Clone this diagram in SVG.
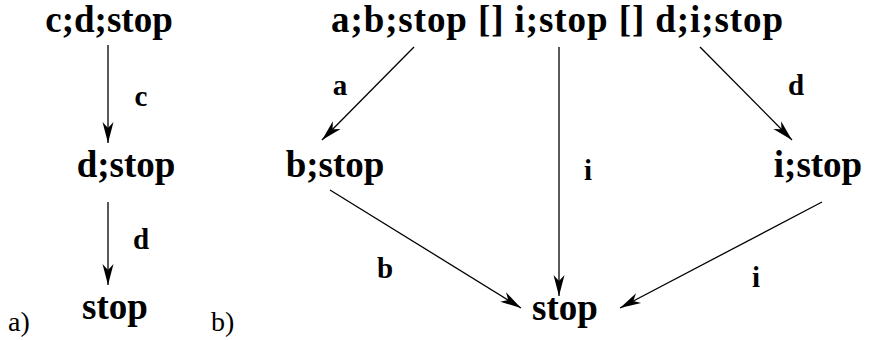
<svg xmlns="http://www.w3.org/2000/svg" width="869" height="340" viewBox="0 0 869 340">
<style>
.n{font-family:'Liberation Serif','Times New Roman',serif;font-weight:bold;font-size:37px;fill:#000;text-anchor:middle}
.l{font-family:'Liberation Serif','Times New Roman',serif;font-weight:bold;font-size:29px;fill:#000;text-anchor:middle}
.p{font-family:'Liberation Serif','Times New Roman',serif;font-size:28px;fill:#000}
.e{stroke:#000;stroke-width:1.3;fill:none;marker-end:url(#ah)}
</style>
<defs>
<marker id="ah" markerUnits="userSpaceOnUse" markerWidth="24" markerHeight="14" viewBox="-22 -7 24 14" refX="0" refY="0" orient="auto">
<path d="M0,0 L-21,-5.5 L-15,0 L-21,5.5 Z" fill="#000"/>
</marker>
</defs>
<g id="a-cdstop"><text class="n" x="109" y="32">c;d;stop</text></g>
<g id="a-dstop"><text class="n" x="126" y="177">d;stop</text></g>
<g id="a-stop"><text class="n" x="115" y="319">stop</text></g>
<g id="b-top"><text class="n" x="557" y="32" textLength="452" lengthAdjust="spacing">a;b;stop [] i;stop [] d;i;stop</text></g>
<g id="b-bstop"><text class="n" x="335" y="177">b;stop</text></g>
<g id="b-istop"><text class="n" x="818" y="177">i;stop</text></g>
<g id="b-stop"><text class="n" x="565" y="320">stop</text></g>
<g id="connectors">
<line class="e" x1="108" y1="45" x2="108" y2="143"/>
<line class="e" x1="108" y1="202" x2="108" y2="285"/>
<line class="e" x1="414" y1="47" x2="322" y2="140"/>
<line class="e" x1="559" y1="47" x2="559" y2="296"/>
<line class="e" x1="700" y1="47" x2="792" y2="140"/>
<line class="e" x1="330" y1="190" x2="521" y2="308"/>
<line class="e" x1="822" y1="202" x2="620" y2="308"/>
</g>
<g id="labels">
<text class="l" x="141" y="106">c</text>
<text class="l" x="141" y="249">d</text>
<text class="l" x="340" y="95">a</text>
<text class="l" x="588" y="180">i</text>
<text class="l" x="796" y="95">d</text>
<text class="l" x="385" y="278">b</text>
<text class="l" x="756" y="287">i</text>
</g>
<text class="p" x="8" y="331">a)</text>
<text class="p" x="211" y="331">b)</text>
</svg>
